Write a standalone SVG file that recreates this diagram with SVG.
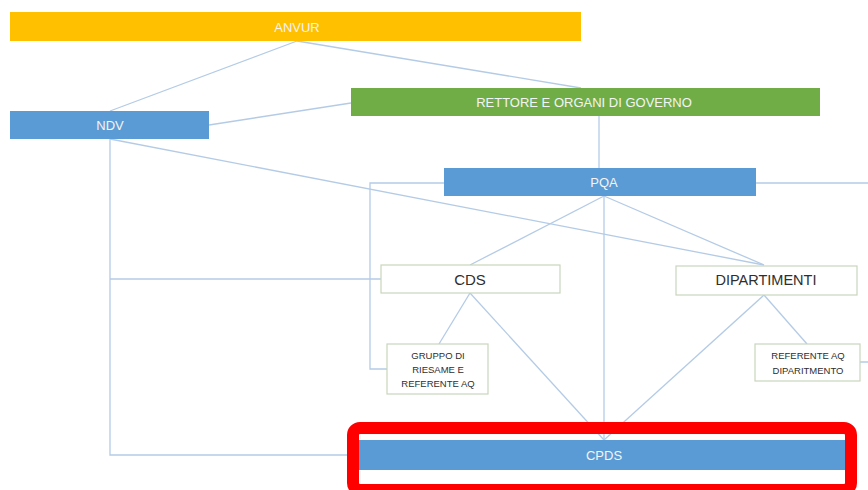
<svg xmlns="http://www.w3.org/2000/svg" width="868" height="490" viewBox="0 0 868 490">
<style>
.c{fill:none;stroke:#B4CBE6;stroke-width:1.3}
.wt{font-family:"Liberation Sans",Arial,sans-serif;fill:#F4F4F4;text-anchor:middle;dominant-baseline:central;font-size:13px}
.dt{font-family:"Liberation Sans",Arial,sans-serif;fill:#2E2E2E;text-anchor:middle;dominant-baseline:central}
.st{font-size:9.5px}
.ob{fill:#FFFFFF;stroke:#C9D6BC;stroke-width:1.2}
</style>
<rect width="868" height="490" fill="#FFFFFF"/>
<g id="connectors">
<line class="c" x1="297" y1="41" x2="110" y2="111"/>
<line class="c" x1="297" y1="41" x2="581" y2="88"/>
<line class="c" x1="209" y1="125" x2="351" y2="103"/>
<line class="c" x1="110" y1="139" x2="764" y2="265"/>
<polyline class="c" points="110,139 110,455 359,455"/>
<line class="c" x1="110" y1="279" x2="381" y2="279"/>
<line class="c" x1="599" y1="116" x2="599" y2="168"/>
<polyline class="c" points="444,183 370,183 370,369 387,369"/>
<polyline class="c" points="756,183 880,183 880,362 860,362"/>
<line class="c" x1="604" y1="196" x2="470" y2="265"/>
<line class="c" x1="604" y1="196" x2="764" y2="265"/>
<line class="c" x1="604" y1="196" x2="604" y2="440"/>
<line class="c" x1="470" y1="293" x2="439" y2="344"/>
<line class="c" x1="470" y1="293" x2="604" y2="440"/>
<line class="c" x1="764" y1="295" x2="604" y2="440"/>
<line class="c" x1="764" y1="295" x2="807" y2="344"/>
</g>
<g id="anvur">
<rect x="10" y="12" width="571" height="29" fill="#FFC000"/>
<text class="wt" x="297" y="27">ANVUR</text>
</g>
<g id="ndv">
<rect x="10" y="111" width="199" height="28" fill="#5B9BD5"/>
<text class="wt" x="110" y="125">NDV</text>
</g>
<g id="rettore">
<rect x="351" y="88" width="469" height="28" fill="#70AD47"/>
<text class="wt" x="584" y="102">RETTORE E ORGANI DI GOVERNO</text>
</g>
<g id="pqa">
<rect x="444" y="168" width="312" height="28" fill="#5B9BD5"/>
<text class="wt" x="604" y="182">PQA</text>
</g>
<g id="cds">
<rect class="ob" x="381" y="265" width="179" height="28"/>
<text class="dt" x="470" y="279" font-size="15">CDS</text>
</g>
<g id="dipartimenti">
<rect class="ob" x="676" y="266" width="181" height="29"/>
<text class="dt" x="766" y="280" font-size="14.5">DIPARTIMENTI</text>
</g>
<g id="gruppo">
<rect class="ob" x="387" y="344" width="101" height="50"/>
<text class="dt st" x="438" y="355">GRUPPO DI</text>
<text class="dt st" x="438" y="369">RIESAME E</text>
<text class="dt st" x="438" y="383">REFERENTE AQ</text>
</g>
<g id="referente">
<rect class="ob" x="755" y="344" width="105" height="37"/>
<text class="dt st" x="808" y="355">REFERENTE AQ</text>
<text class="dt st" x="808" y="370">DIPARITMENTO</text>
</g>
<g id="cpds">
<rect x="358" y="440" width="490" height="30" fill="#5B9BD5"/>
<text class="wt" x="604" y="455">CPDS</text>
</g>
<g id="highlight">
<rect x="353" y="428" width="498" height="62" rx="7" fill="none" stroke="#FF0000" stroke-width="12"/>
</g>
</svg>
